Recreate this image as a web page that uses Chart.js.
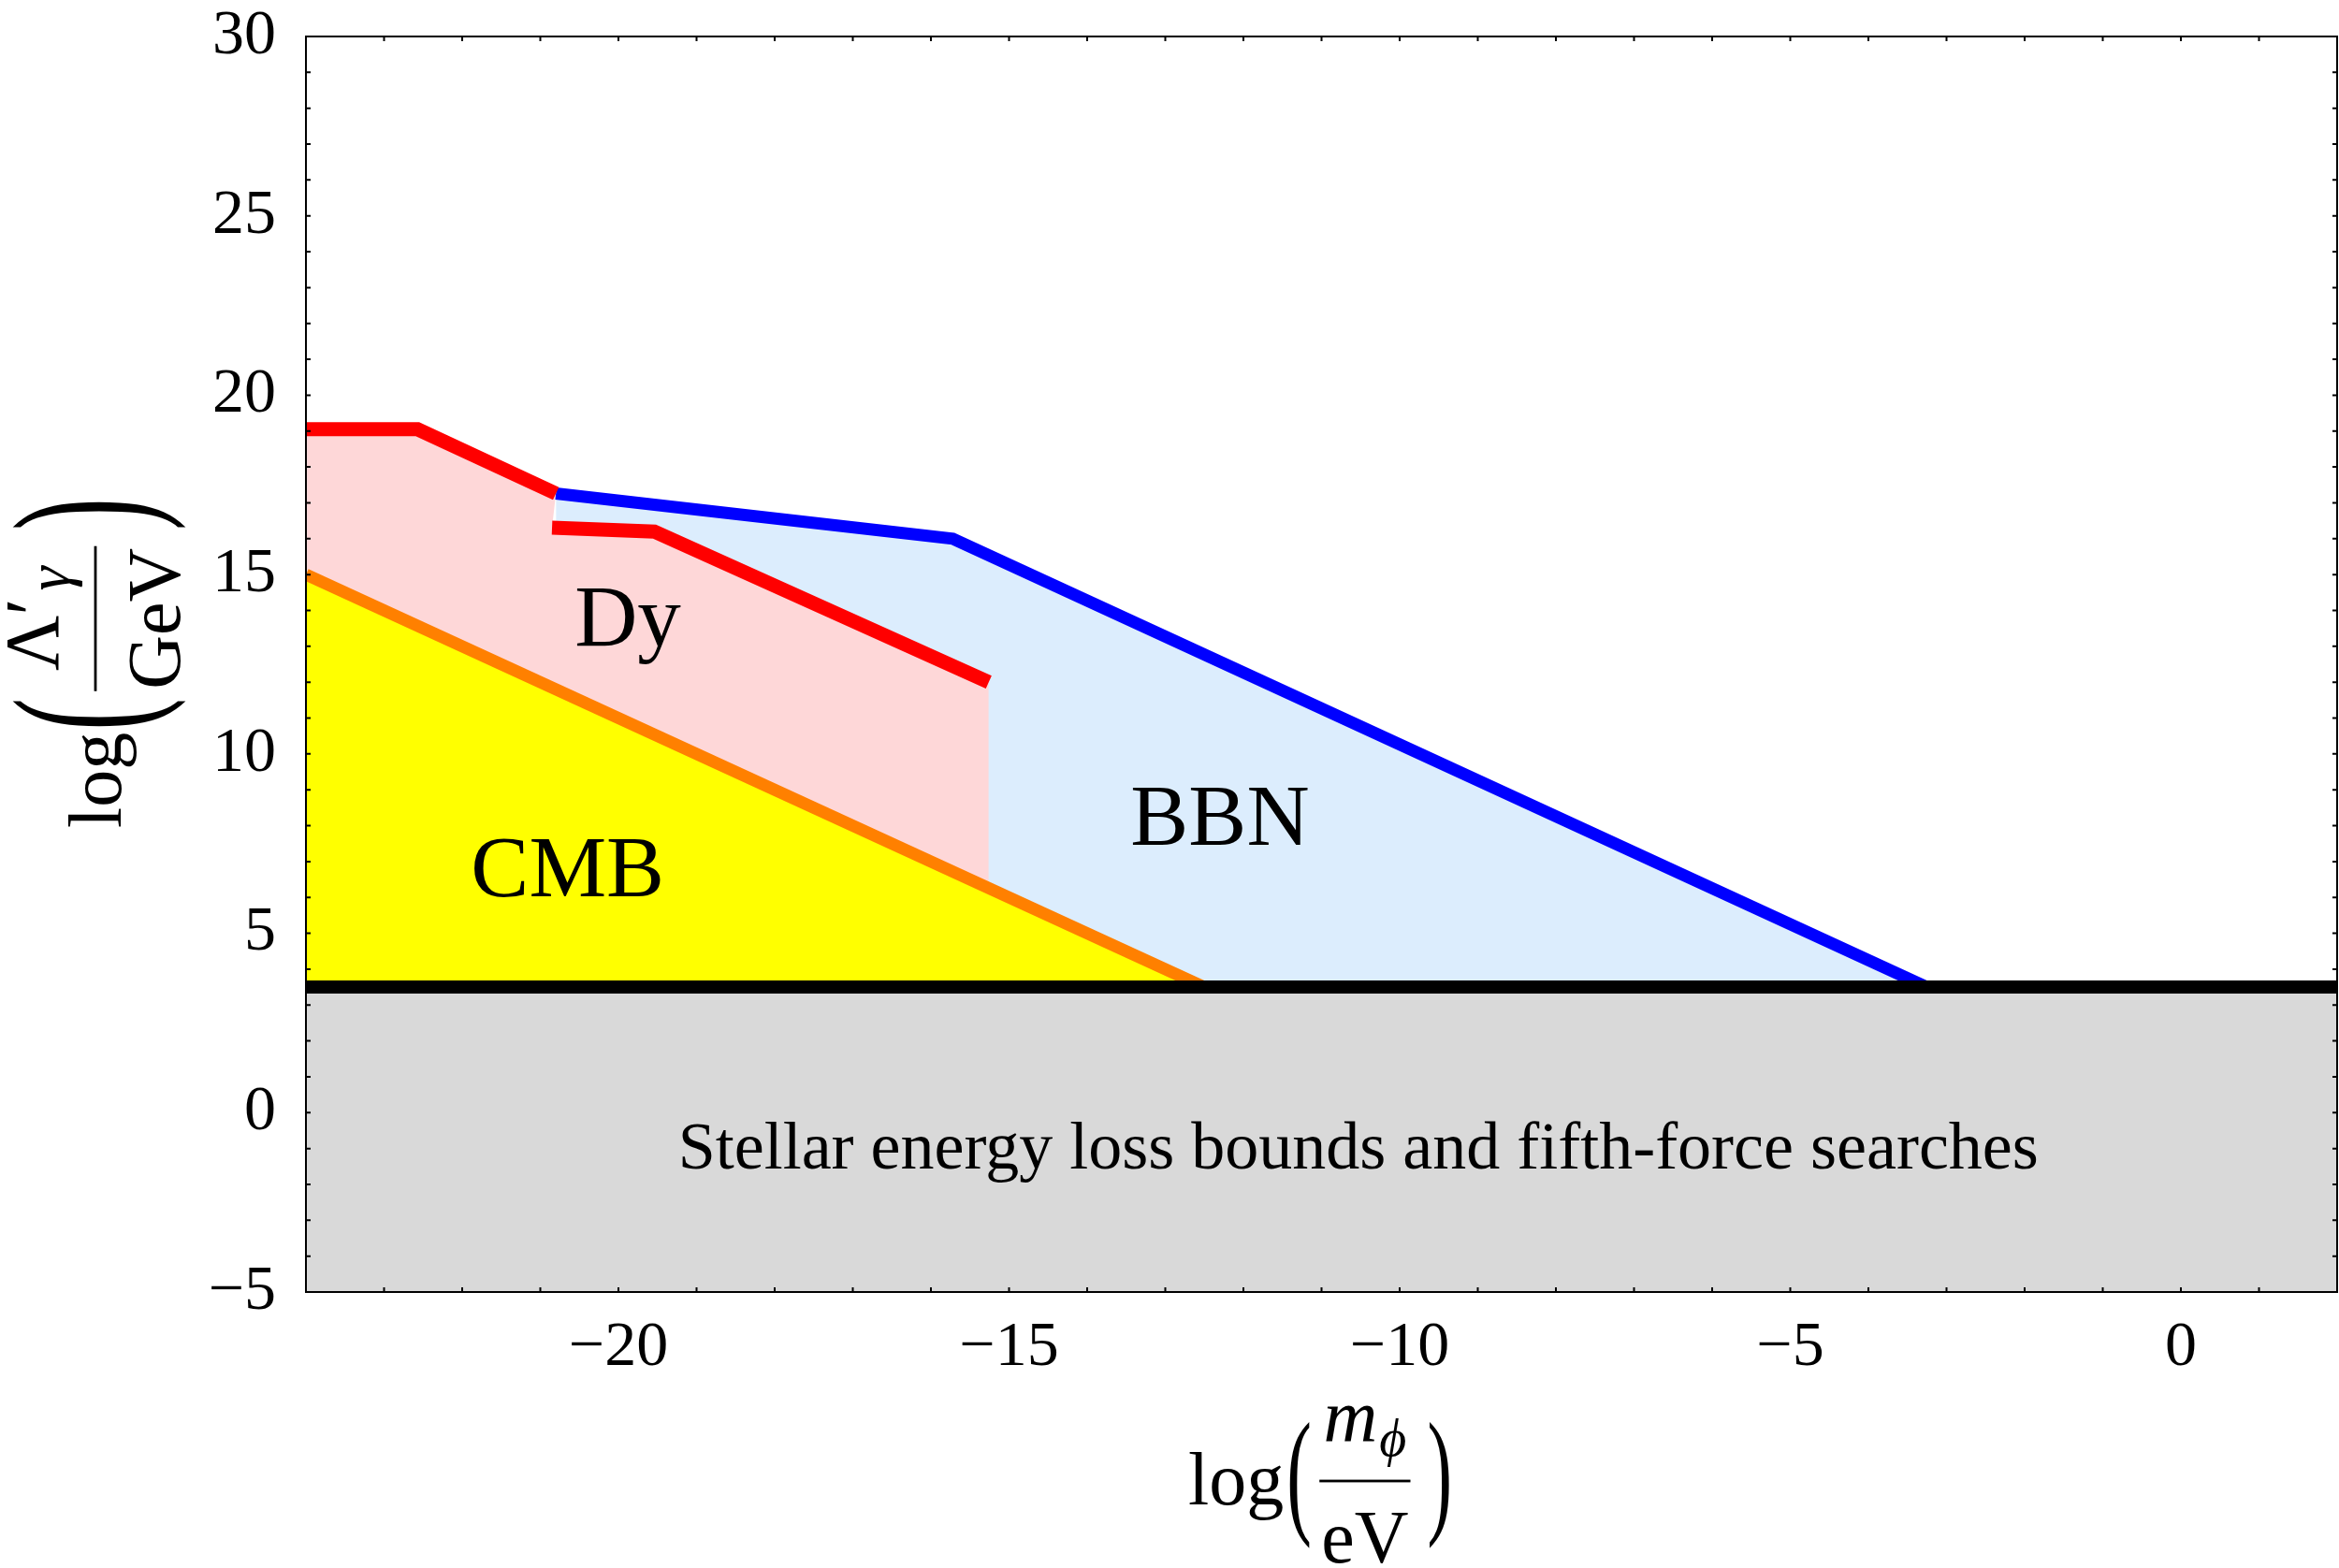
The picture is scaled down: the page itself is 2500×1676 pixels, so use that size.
<!DOCTYPE html>
<html>
<head>
<meta charset="utf-8">
<script src="https://cdn.jsdelivr.net/npm/chart.js@4.4.1/dist/chart.umd.min.js"></script>
<style>
  html, body { margin: 0; padding: 0; background: #fff; }
  canvas { display: block; }
</style>
</head>
<body>
<canvas id="chart" width="2500" height="1676"></canvas>
<script>
// axes
const xRange = [-24, 2];
const yRange = [-5, 30];
const xTickValues = [-20, -15, -10, -5, 0];
const yTickValues = [-5, 0, 5, 10, 15, 20, 25, 30];

// bounds (log m/eV, log Lambda/GeV)
const stellarBound = 3.5;
const dyUpperX = [-24, -22.57, -20.8];
const dyUpperY = [19.05, 19.05, 17.26];
const dyLowerX = [-20.85, -19.54, -15.26];
const dyLowerY = [16.31, 16.2, 12.0];
const bbnX = [-20.8, -15.72, -3.25];
const bbnY = [17.26, 16.0, 3.5];
const cmbX = [-24, -12.5];
const cmbY = [15.0, 3.5];

// region names and where they sit (data coords)
const regionLabels = ['Dy', 'CMB', 'BBN', 'Stellar energy loss bounds and fifth-force searches'];
const regionLabelX = [-19.88, -20.65, -12.3, -10.53];
const regionLabelY = [13.02, 6.02, 7.47, -1.56];

const serif = '"Liberation Serif", "Times New Roman", serif';
const labelSizes = [93, 93, 93, 72];
const pts = (xs, ys) => xs.map((x, i) => ({ x: x, y: ys[i] }));
const minus = v => String(v).replace('-', '\u2212');
const none = 'rgba(0,0,0,0)';

// draws a run of text pieces [text, font, baseline shift, gap before]
function runWidth(ctx, run) {
  let w = 0;
  run.forEach(p => { ctx.font = p[1]; w += (p[3] || 0) + ctx.measureText(p[0]).width; });
  return w;
}
function drawRun(ctx, run, x, y) {
  run.forEach(p => {
    ctx.font = p[1];
    x += p[3] || 0;
    ctx.fillText(p[0], x, y + p[2]);
    x += ctx.measureText(p[0]).width;
  });
}
function drawParen(ctx, ch, x, top, bot, size) {
  ctx.font = size + 'px ' + serif;
  const m = ctx.measureText(ch);
  const asc = m.actualBoundingBoxAscent, desc = m.actualBoundingBoxDescent;
  const s = (bot - top) / (asc + desc);
  ctx.save();
  ctx.translate(x + m.actualBoundingBoxLeft, top + asc * s);
  ctx.scale(1, s);
  ctx.fillText(ch, 0, 0);
  ctx.restore();
  return x + m.actualBoundingBoxLeft + m.actualBoundingBoxRight;
}
function drawMathTitle(ctx, x0, bar, t) {
  ctx.fillStyle = '#000';
  ctx.textAlign = 'left';
  ctx.textBaseline = 'alphabetic';
  ctx.font = '80px ' + serif;
  ctx.fillText('log', x0, bar + t.logDy);
  let x = x0 + ctx.measureText('log').width + 6;
  x = drawParen(ctx, '(', x, bar - t.parUp, bar + t.parDown, t.parSize) + 10;
  const nw = runWidth(ctx, t.num), dw = runWidth(ctx, t.den);
  const bw = Math.max(nw, dw) + 4;
  drawRun(ctx, t.num, x + (bw - nw) / 2, bar - t.numDy);
  drawRun(ctx, t.den, x + (bw - dw) / 2, bar + t.denDy);
  ctx.fillRect(x, bar - 1.4, bw, 2.8);
  x += bw + 20;
  drawParen(ctx, ')', x, bar - t.parUp, bar + t.parDown, t.parSize);
}

const xTitle = {
  logDy: 25, numDy: 43, denDy: 87, parUp: 64, parDown: 74, parSize: 80,
  num: [['m', 'italic 80px ' + serif, 0], ['\u03D5', 'italic 56px ' + serif, 16, 2]],
  den: [['eV', '80px ' + serif, 0]]
};
const yTitle = {
  logDy: 27, numDy: 40, denDy: 90, parUp: 90, parDown: 98, parSize: 104,
  num: [['\u039B\u2032', '82px ' + serif, 0], ['\u03B3', 'italic 66px ' + serif, 12, 8]],
  den: [['GeV', '80px ' + serif, 0]]
};

const overlay = {
  id: 'overlay',
  afterDatasetsDraw(chart) {
    const { ctx, chartArea: a, scales: { x, y } } = chart;
    ctx.save();
    ctx.fillStyle = '#000';
    ctx.textAlign = 'center';
    ctx.textBaseline = 'alphabetic';
    regionLabels.forEach((t, i) => {
      ctx.font = labelSizes[i] + 'px ' + serif;
      ctx.fillText(t, x.getPixelForValue(regionLabelX[i]), y.getPixelForValue(regionLabelY[i]));
    });

    // frame with small inward ticks on every side
    ctx.strokeStyle = '#000';
    ctx.lineWidth = 2;
    ctx.strokeRect(a.left, a.top, a.right - a.left, a.bottom - a.top);
    ctx.beginPath();
    for (let v = Math.ceil(x.min); v <= x.max; v++) {
      const px = x.getPixelForValue(v);
      ctx.moveTo(px, a.bottom); ctx.lineTo(px, a.bottom - 5);
      ctx.moveTo(px, a.top); ctx.lineTo(px, a.top + 5);
    }
    for (let v = Math.ceil(y.min); v <= y.max; v++) {
      const py = y.getPixelForValue(v);
      ctx.moveTo(a.left, py); ctx.lineTo(a.left + 5, py);
      ctx.moveTo(a.right, py); ctx.lineTo(a.right - 5, py);
    }
    ctx.stroke();
    ctx.restore();
  },
  afterDraw(chart) {
    const ctx = chart.ctx;
    ctx.save();
    drawMathTitle(ctx, 1270, 1583, xTitle);
    ctx.restore();
    ctx.save();
    ctx.rotate(-Math.PI / 2);
    drawMathTitle(ctx, -885, 102, yTitle);
    ctx.restore();
  }
};

new Chart(document.getElementById('chart'), {
  type: 'line',
  data: {
    datasets: [
      { label: 'BBN region', data: pts(bbnX, bbnY), backgroundColor: '#dcedfd', borderColor: none, borderWidth: 0, fill: { value: stellarBound }, order: 10 },
      { label: 'Dy region', data: pts(dyUpperX.concat(dyLowerX), dyUpperY.concat(dyLowerY)), backgroundColor: '#fed7d8', borderColor: none, borderWidth: 0, fill: { value: stellarBound }, order: 9 },
      { label: 'CMB region', data: pts(cmbX, cmbY), backgroundColor: '#ffff00', borderColor: none, borderWidth: 0, fill: { value: stellarBound }, order: 8 },
      { label: 'Stellar region', data: pts(xRange, [stellarBound, stellarBound]), backgroundColor: '#d9d9d9', borderColor: none, borderWidth: 0, fill: 'start', order: 7 },
      { label: 'BBN', data: pts(bbnX, bbnY), borderColor: '#0000ff', borderWidth: 13, fill: false, order: 5 },
      { label: 'Dy upper', data: pts(dyUpperX, dyUpperY), borderColor: '#ff0000', borderWidth: 15, fill: false, order: 4 },
      { label: 'Dy lower', data: pts(dyLowerX, dyLowerY), borderColor: '#ff0000', borderWidth: 15, fill: false, order: 4 },
      { label: 'CMB', data: pts(cmbX, cmbY), borderColor: '#ff8000', borderWidth: 13, fill: false, order: 3 },
      { label: 'Stellar bound', data: pts(xRange, [stellarBound, stellarBound]), borderColor: '#000000', borderWidth: 14, fill: false, order: 1 }
    ]
  },
  options: {
    responsive: false,
    devicePixelRatio: 1,
    animation: false,
    clip: 0,
    layout: { padding: { top: 39, right: 2, left: 0, bottom: 0 } },
    elements: {
      point: { radius: 0, hoverRadius: 0 },
      line: { tension: 0, borderCapStyle: 'butt', borderJoinStyle: 'miter' }
    },
    plugins: {
      legend: { display: false },
      tooltip: { enabled: false },
      title: { display: false }
    },
    scales: {
      x: {
        type: 'linear',
        min: xRange[0],
        max: xRange[1],
        grid: { display: false },
        border: { display: false },
        afterBuildTicks: s => { s.ticks = xTickValues.map(v => ({ value: v })); },
        afterFit: s => { s.height = 295; s.paddingLeft = 0; s.paddingRight = 0; },
        ticks: {
          color: '#000',
          padding: 11,
          maxRotation: 0,
          font: { family: serif, size: 68 },
          callback: v => minus(v)
        }
      },
      y: {
        type: 'linear',
        min: yRange[0],
        max: yRange[1],
        grid: { display: false },
        border: { display: false },
        afterBuildTicks: s => { s.ticks = yTickValues.map(v => ({ value: v })); },
        afterFit: s => { s.width = 327; s.paddingTop = 0; s.paddingBottom = 0; },
        ticks: {
          color: '#000',
          padding: 24,
          font: { family: serif, size: 68 },
          callback: v => minus(v)
        }
      }
    }
  },
  plugins: [overlay]
});
</script>
</body>
</html>
